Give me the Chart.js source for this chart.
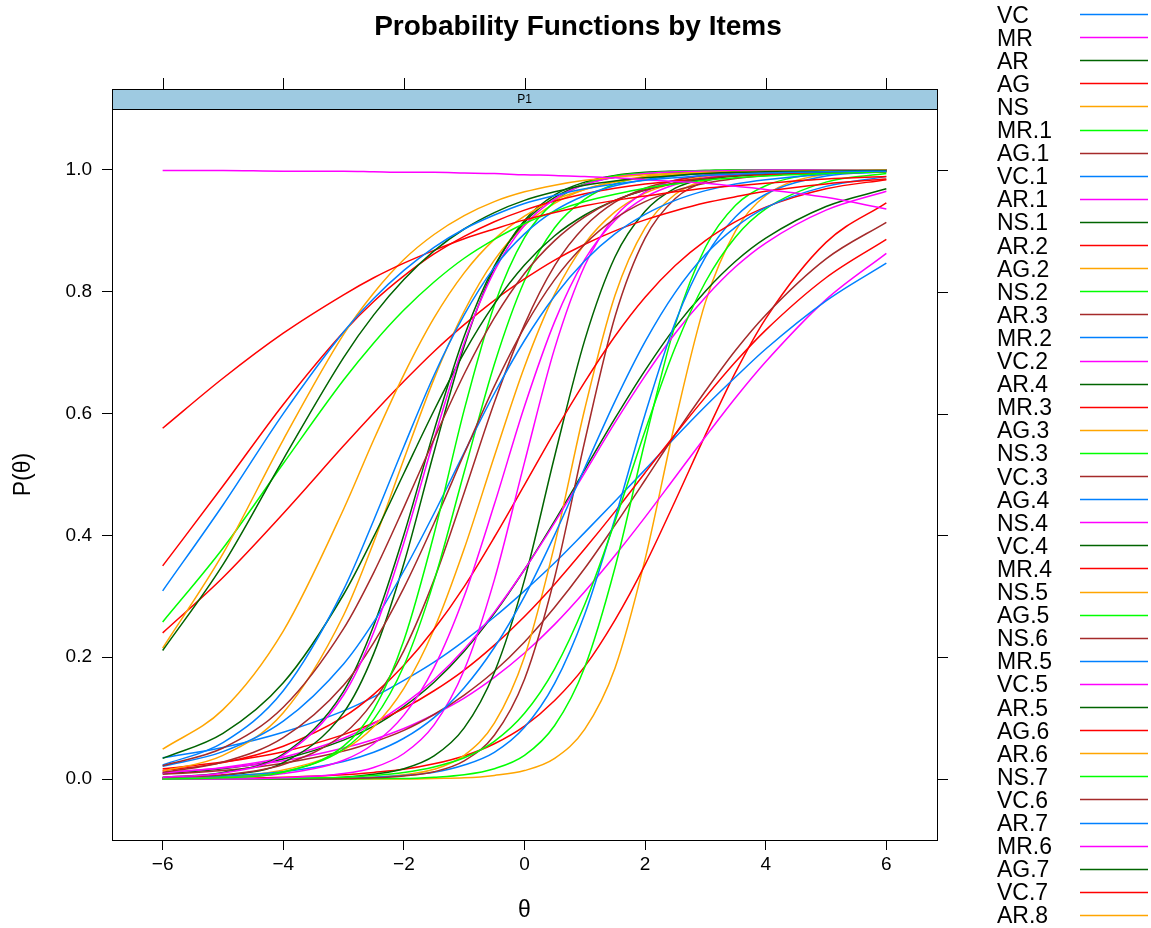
<!DOCTYPE html>
<html>
<head>
<meta charset="utf-8">
<title>Probability Functions by Items</title>
<script src="https://cdn.jsdelivr.net/npm/chart.js@4.4.0/dist/chart.umd.min.js"></script>
<style>
  body { margin: 0; background: #fff; }
  #wrap { width: 1151px; height: 928px; }
</style>
</head>
<body>
<div id="wrap"><canvas id="plot" width="1151" height="928"></canvas></div>
<script>
// theta grid shared by every trace line
const theta = [-6, -5, -4, -3, -2.5, -2, -1.5, -1, -0.5, 0, 0.5, 1, 1.5, 2, 2.5, 3, 3.5, 4, 5, 6];

const xTicks = [-6, -4, -2, 0, 2, 4, 6];
const yTicks = [0, 0.2, 0.4, 0.6, 0.8, 1.0];

const itemNames = ['VC', 'MR', 'AR', 'AG', 'NS', 'MR.1', 'AG.1', 'VC.1', 'AR.1', 'NS.1',
  'AR.2', 'AG.2', 'NS.2', 'AR.3', 'MR.2', 'VC.2', 'AR.4', 'MR.3', 'AG.3', 'NS.3',
  'VC.3', 'AG.4', 'NS.4', 'VC.4', 'MR.4', 'NS.5', 'AG.5', 'NS.6', 'MR.5', 'VC.5',
  'AR.5', 'AG.6', 'AR.6', 'NS.7', 'VC.6', 'AR.7', 'MR.6', 'AG.7', 'VC.7', 'AR.8'];

// P(theta), one array per item
const VC   = [.309,.450,.600,.734,.789,.835,.873,.903,.926,.945,.958,.969,.977,.983,.987,.991,.993,.995,.997,.998];
const MR   = [.999,.999,.998,.998,.997,.996,.996,.995,.994,.992,.991,.989,.987,.984,.981,.978,.973,.968,.955,.936];
const AR   = [.211,.352,.525,.692,.762,.820,.867,.903,.930,.950,.964,.975,.982,.987,.991,.994,.996,.997,.998,.999];
const AG   = [.576,.658,.732,.795,.823,.847,.868,.887,.903,.918,.930,.941,.950,.957,.964,.970,.974,.978,.985,.989];
const NS   = [.215,.370,.557,.730,.798,.853,.894,.925,.948,.964,.975,.983,.988,.992,.994,.996,.997,.998,.999,1];
const MR_1 = [.258,.379,.518,.655,.716,.770,.816,.855,.886,.912,.932,.948,.960,.970,.977,.983,.987,.990,.994,.997];
const AG_1 = [.022,.051,.118,.247,.339,.446,.558,.665,.757,.830,.884,.923,.950,.967,.979,.986,.991,.994,.998,.999];
const VC_1 = [.023,.060,.145,.311,.425,.546,.663,.762,.840,.895,.933,.958,.974,.984,.990,.994,.996,.998,.999,1];
const AR_1 = [.003,.010,.039,.138,.241,.388,.558,.716,.834,.909,.952,.976,.988,.994,.997,.998,.999,1,1,1];
const NS_1 = [.034,.075,.158,.303,.398,.502,.605,.700,.780,.844,.892,.926,.950,.967,.978,.985,.990,.994,.997,.999];
const AR_2 = [.350,.481,.615,.734,.784,.826,.862,.891,.915,.934,.949,.961,.970,.977,.982,.986,.990,.992,.995,.997];
const AG_2 = [.049,.114,.243,.443,.557,.664,.757,.831,.886,.924,.951,.968,.980,.987,.992,.995,.997,.998,.999,1];
const NS_2 = [0,.002,.011,.054,.114,.228,.402,.606,.778,.889,.948,.977,.990,.995,.998,.999,1,1,1,1];
const AR_3 = [.011,.028,.068,.154,.224,.314,.420,.534,.645,.742,.820,.878,.920,.948,.966,.978,.986,.991,.997,.999];
const MR_2 = [.021,.045,.095,.189,.258,.342,.436,.536,.633,.720,.793,.851,.895,.927,.950,.966,.977,.984,.993,.997];
const VC_2 = [.001,.002,.009,.031,.058,.105,.183,.300,.451,.612,.751,.853,.917,.955,.976,.987,.993,.996,.999,1];
const AR_4 = [.003,.011,.041,.144,.252,.401,.572,.727,.842,.914,.955,.977,.988,.994,.997,.998,.999,1,1,1];
const MR_3 = [.240,.331,.436,.547,.601,.653,.702,.746,.786,.821,.852,.878,.900,.918,.933,.946,.956,.965,.977,.985];
const AG_3 = [.013,.039,.109,.269,.389,.525,.657,.768,.852,.909,.945,.968,.981,.989,.994,.996,.998,.999,1,1];
const NS_3 = [.001,.003,.012,.049,.098,.186,.325,.504,.681,.818,.905,.952,.977,.989,.995,.997,.999,.999,1,1];
const VC_3 = [.002,.007,.024,.074,.128,.211,.327,.470,.618,.746,.843,.907,.947,.970,.983,.991,.995,.997,.999,1];
const AG_4 = [.002,.005,.012,.029,.044,.067,.101,.150,.216,.300,.401,.511,.620,.718,.799,.861,.906,.938,.973,.989];
const NS_4 = [0,0,.002,.009,.019,.042,.089,.179,.327,.520,.707,.843,.923,.964,.983,.992,.997,.998,1,1];
const VC_4 = [.001,.006,.027,.109,.206,.354,.537,.711,.839,.917,.959,.980,.991,.996,.998,.999,1,1,1,1];
const MR_4 = [.014,.027,.054,.102,.139,.187,.246,.316,.397,.483,.570,.652,.727,.791,.843,.884,.915,.939,.969,.984];
const NS_5 = [.001,.004,.015,.048,.086,.149,.246,.378,.530,.677,.796,.879,.931,.962,.979,.989,.994,.997,.999,1];
const AG_5 = [0,0,.001,.003,.006,.011,.020,.035,.062,.108,.181,.287,.423,.572,.709,.816,.890,.936,.980,.994];
const NS_6 = [0,0,0,.001,.002,.005,.012,.030,.072,.164,.331,.555,.759,.888,.953,.981,.992,.997,1,1];
const MR_5 = [0,0,0,.001,.003,.006,.011,.023,.044,.085,.157,.271,.428,.599,.750,.857,.923,.960,.990,.997];
const VC_5 = [.010,.019,.036,.067,.091,.123,.163,.213,.274,.344,.421,.503,.585,.662,.732,.791,.841,.880,.934,.965];
const AR_5 = [0,0,.001,.003,.008,.017,.038,.084,.175,.327,.530,.721,.857,.932,.970,.986,.994,.997,1,1];
const AG_6 = [.017,.028,.045,.073,.092,.116,.145,.179,.220,.267,.320,.378,.439,.503,.566,.627,.685,.737,.823,.886];
const AR_6 = [0,0,0,.001,.003,.007,.016,.039,.092,.201,.385,.608,.794,.905,.960,.983,.993,.997,1,1];
const NS_7 = [0,0,0,0,.001,.001,.003,.007,.017,.039,.088,.184,.347,.555,.746,.873,.942,.974,.995,.999];
const VC_6 = [.008,.014,.026,.046,.061,.080,.106,.138,.177,.225,.282,.346,.417,.491,.566,.637,.704,.762,.854,.914];
const AR_7 = [.035,.052,.077,.112,.135,.162,.192,.227,.266,.309,.355,.405,.456,.508,.561,.612,.660,.706,.785,.847];
const MR_6 = [.011,.018,.030,.051,.065,.083,.106,.133,.167,.207,.254,.308,.367,.430,.496,.562,.626,.685,.787,.863];
const AG_7 = [.009,.017,.033,.064,.087,.119,.159,.210,.272,.344,.424,.508,.592,.671,.742,.801,.850,.888,.940,.969];
const VC_7 = [.001,.001,.003,.007,.011,.016,.025,.038,.058,.087,.129,.185,.261,.352,.457,.565,.668,.756,.881,.946];
const AR_8 = [0,0,0,0,0,0,.001,.002,.006,.014,.034,.082,.182,.361,.587,.783,.900,.958,.993,.999];

const itemValues = [VC, MR, AR, AG, NS, MR_1, AG_1, VC_1, AR_1, NS_1,
  AR_2, AG_2, NS_2, AR_3, MR_2, VC_2, AR_4, MR_3, AG_3, NS_3,
  VC_3, AG_4, NS_4, VC_4, MR_4, NS_5, AG_5, NS_6, MR_5, VC_5,
  AR_5, AG_6, AR_6, NS_7, VC_6, AR_7, MR_6, AG_7, VC_7, AR_8];

// lattice superpose.line colours, recycled
const lineColors = ['#0080ff', '#ff00ff', '#006400', '#ff0000', '#ffa500', '#00ff00', '#a52a2a'];

const FONT = '"Liberation Sans", Arial, Helvetica, sans-serif';
const STRIP_H = 20;
const minus = v => (v < 0 ? '\u2212' + Math.abs(v) : String(v));

Chart.defaults.font.family = FONT;
Chart.defaults.color = '#000';

// 格子框、條帶、上/右刻度、標題與圖例
const latticeFrame = {
  id: 'latticeFrame',
  afterDraw(chart) {
    const { ctx, chartArea: a, scales: { x, y } } = chart;
    const stripTop = a.top - STRIP_H;
    ctx.save();

    // strip
    ctx.fillStyle = '#9ecae1';
    ctx.fillRect(a.left, stripTop, a.right - a.left, STRIP_H);
    ctx.strokeStyle = '#000';
    ctx.lineWidth = 1;
    ctx.strokeRect(a.left + 0.5, stripTop + 0.5, a.right - a.left, STRIP_H);
    ctx.strokeRect(a.left + 0.5, a.top + 0.5, a.right - a.left, a.bottom - a.top);

    ctx.fillStyle = '#000';
    ctx.font = '12px ' + FONT;
    ctx.textAlign = 'center';
    ctx.textBaseline = 'middle';
    ctx.fillText('P1', (a.left + a.right) / 2, stripTop + STRIP_H / 2 + 1);

    // ticks on top and right
    ctx.beginPath();
    xTicks.forEach(t => {
      const px = Math.round(x.getPixelForValue(t)) + 0.5;
      ctx.moveTo(px, stripTop);
      ctx.lineTo(px, stripTop - 11);
    });
    yTicks.forEach(t => {
      const py = Math.round(y.getPixelForValue(t)) + 0.5;
      ctx.moveTo(a.right, py);
      ctx.lineTo(a.right + 11, py);
    });
    ctx.stroke();

    // title
    ctx.font = 'bold 28px ' + FONT;
    ctx.textBaseline = 'alphabetic';
    ctx.fillText('Probability Functions by Items', 578, 35);

    // axis labels
    ctx.font = '23px ' + FONT;
    ctx.fillText('\u03b8', (a.left + a.right) / 2, 917);
    ctx.save();
    ctx.translate(30, (a.top + a.bottom) / 2);
    ctx.rotate(-Math.PI / 2);
    ctx.fillText('P(\u03b8)', 0, 0);
    ctx.restore();

    // legend
    ctx.font = '23px ' + FONT;
    ctx.textAlign = 'left';
    chart.data.datasets.forEach((ds, i) => {
      const cy = 14 + i * 23.1;
      ctx.fillStyle = '#000';
      ctx.fillText(ds.label, 997, cy + 8.5);
      ctx.strokeStyle = ds.borderColor;
      ctx.lineWidth = 1.5;
      ctx.beginPath();
      ctx.moveTo(1080, Math.round(cy) + 0.5);
      ctx.lineTo(1148, Math.round(cy) + 0.5);
      ctx.stroke();
    });
    ctx.restore();
  }
};

const datasets = itemNames.map((name, i) => ({
  label: name,
  data: theta.map((t, k) => ({ x: t, y: itemValues[i][k] })),
  borderColor: lineColors[i % lineColors.length],
  borderWidth: 1.5,
  pointRadius: 0,
  fill: false,
  cubicInterpolationMode: 'monotone'
}));

new Chart(document.getElementById('plot'), {
  type: 'line',
  data: { datasets },
  options: {
    responsive: false,
    animation: false,
    devicePixelRatio: 1,
    layout: { padding: { left: 0, top: 109, right: 214, bottom: 0 } },
    plugins: { legend: { display: false }, tooltip: { enabled: false } },
    scales: {
      x: {
        type: 'linear',
        min: -6.84,
        max: 6.84,
        afterBuildTicks: s => { s.ticks = xTicks.map(v => ({ value: v })); },
        afterFit: s => { s.height = 88; },
        ticks: { callback: v => minus(v), font: { size: 19 }, color: '#000', padding: 3, maxRotation: 0 },
        grid: { drawOnChartArea: false, tickLength: 10, color: '#000' },
        border: { display: false }
      },
      y: {
        type: 'linear',
        min: -0.1,
        max: 1.1,
        afterBuildTicks: s => { s.ticks = yTicks.map(v => ({ value: v })); },
        afterFit: s => { s.width = 112; },
        ticks: { callback: v => v.toFixed(1), font: { size: 19 }, color: '#000', padding: 10 },
        grid: { drawOnChartArea: false, tickLength: 10, color: '#000' },
        border: { display: false }
      }
    }
  },
  plugins: [latticeFrame]
});
</script>
</body>
</html>
